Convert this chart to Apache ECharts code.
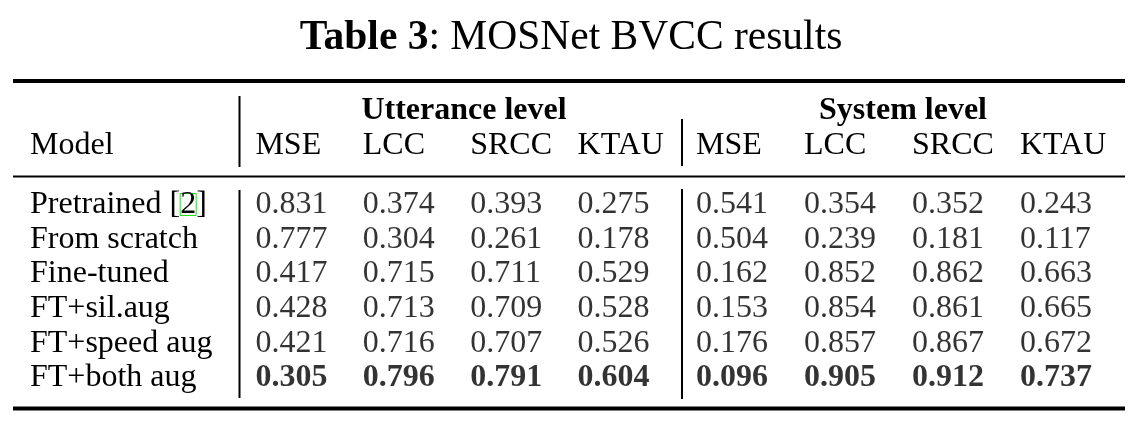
<!DOCTYPE html>
<html>
<head>
<meta charset="utf-8">
<script src="https://cdn.jsdelivr.net/npm/echarts@6/dist/echarts.min.js"></script>
<style>
html,body{margin:0;padding:0;background:#fff;}
#chart{width:1142px;height:430px;}
</style>
</head>
<body>
<div id="chart"></div>
<script>
// ---- data ----
const models = ['Pretrained [2]', 'From scratch', 'Fine-tuned', 'FT+sil.aug', 'FT+speed aug', 'FT+both aug'];
const metrics = ['MSE', 'LCC', 'SRCC', 'KTAU'];
const levels = ['Utterance level', 'System level'];
const uttMSE  = [0.831, 0.777, 0.417, 0.428, 0.421, 0.305];
const uttLCC  = [0.374, 0.304, 0.715, 0.713, 0.716, 0.796];
const uttSRCC = [0.393, 0.261, 0.711, 0.709, 0.707, 0.791];
const uttKTAU = [0.275, 0.178, 0.529, 0.528, 0.526, 0.604];
const sysMSE  = [0.541, 0.504, 0.162, 0.153, 0.176, 0.096];
const sysLCC  = [0.354, 0.239, 0.852, 0.854, 0.857, 0.905];
const sysSRCC = [0.352, 0.181, 0.862, 0.861, 0.867, 0.912];
const sysKTAU = [0.243, 0.117, 0.663, 0.665, 0.672, 0.737];
const bestModel = 'FT+both aug';

// ---- build ----
const FONT = "'Liberation Serif','Times New Roman',serif";
const FS = 32;
function buildCells(cols) {
  const out = [];
  cols.forEach((col, c) => {
    col.forEach((v, r) => {
      const bold = models[r] === bestModel;
      out.push({ value: [c, r, v], label: { fontWeight: bold ? 'bold' : 'normal' } });
    });
  });
  return out;
}
const uttCells = buildCells([uttMSE, uttLCC, uttSRCC, uttKTAU]);
const sysCells = buildCells([sysMSE, sysLCC, sysSRCC, sysKTAU]);

const rowPitch = 34.7;
const gridTop = 204.5 - rowPitch / 2;
const gridH = rowPitch * models.length;
const uttColW = 107.4, uttLeft = 255.4 - uttColW / 2;
const sysColW = 108, sysLeft = 696 - sysColW / 2;

const hideAxis = { axisLine: { show: false }, axisTick: { show: false }, splitLine: { show: false } };
const metricAxis = (gi) => Object.assign({
  type: 'category', gridIndex: gi, position: 'top', data: metrics,
  axisLabel: {
    interval: 0, align: 'left', verticalAlign: 'middle', margin: gridTop - 145.5,
    fontFamily: FONT, fontSize: FS, color: '#000'
  }
}, hideAxis);
const cellSeries = (gi, data) => ({
  type: 'scatter', xAxisIndex: gi, yAxisIndex: gi, symbolSize: 0, silent: true,
  data: data,
  label: {
    show: true, position: 'right', distance: 0, align: 'left', verticalAlign: 'middle',
    fontFamily: FONT, fontSize: FS, color: '#000',
    formatter: (p) => p.value[2].toFixed(3)
  }
});

const chart = echarts.init(document.getElementById('chart'), null, { renderer: 'canvas' });
const lineStyle = (w) => ({ stroke: '#000', lineWidth: w });
chart.setOption({
  backgroundColor: '#fff',
  animation: false,
  title: {
    left: 'center',
    top: 12,
    text: '{b|Table 3}{n|: MOSNet BVCC results}',
    textStyle: {
      rich: {
        b: { fontFamily: FONT, fontSize: 41.5, fontWeight: 'bold', color: '#000' },
        n: { fontFamily: FONT, fontSize: 41.5, fontWeight: 'normal', color: '#000' }
      }
    }
  },
  grid: [
    { left: uttLeft, top: gridTop, width: uttColW * 4, height: gridH },
    { left: sysLeft, top: gridTop, width: sysColW * 4, height: gridH },
    { left: 244.5, top: gridTop, width: 878, height: gridH }
  ],
  xAxis: [
    metricAxis(0),
    metricAxis(1),
    Object.assign({
      type: 'category', gridIndex: 2, position: 'top', data: levels,
      axisLabel: {
        interval: 0, align: 'center', verticalAlign: 'middle', margin: gridTop - 110.5,
        fontFamily: FONT, fontSize: FS, fontWeight: 'bold', color: '#000'
      }
    }, hideAxis)
  ],
  yAxis: [
    Object.assign({
      type: 'category', gridIndex: 0, inverse: true, data: models,
      axisLabel: {
        interval: 0, align: 'left', verticalAlign: 'middle', margin: uttLeft - 30,
        fontFamily: FONT, fontSize: FS, color: '#000',
        formatter: (v) => v.replace('[2]', '[{cite|2}]'),
        rich: {
          cite: {
            fontFamily: FONT, fontSize: FS, color: '#000',
            borderColor: '#22dd22', borderWidth: 1, height: 22, lineHeight: 22, padding: [0, 0, 0, 0]
          }
        }
      }
    }, hideAxis),
    { type: 'category', gridIndex: 1, inverse: true, data: models, show: false },
    { type: 'value', gridIndex: 2, show: false }
  ],
  series: [
    cellSeries(0, uttCells),
    cellSeries(1, sysCells)
  ],
  graphic: [
    { type: 'line', shape: { x1: 13, y1: 81, x2: 1125, y2: 81 }, style: lineStyle(4) },
    { type: 'line', shape: { x1: 13, y1: 176.5, x2: 1125, y2: 176.5 }, style: lineStyle(2) },
    { type: 'line', shape: { x1: 13, y1: 408.5, x2: 1125, y2: 408.5 }, style: lineStyle(4) },
    { type: 'line', shape: { x1: 239.5, y1: 96, x2: 239.5, y2: 167 }, style: lineStyle(2) },
    { type: 'line', shape: { x1: 239.5, y1: 190, x2: 239.5, y2: 398 }, style: lineStyle(2) },
    { type: 'line', shape: { x1: 682, y1: 119, x2: 682, y2: 166 }, style: lineStyle(2) },
    { type: 'line', shape: { x1: 682, y1: 189, x2: 682, y2: 399 }, style: lineStyle(2) },
    {
      type: 'text', left: 30, top: 145.5 - 16,
      style: { text: 'Model', fontFamily: FONT, fontSize: FS, fill: '#000' }
    }
  ]
});
</script>
</body>
</html>
